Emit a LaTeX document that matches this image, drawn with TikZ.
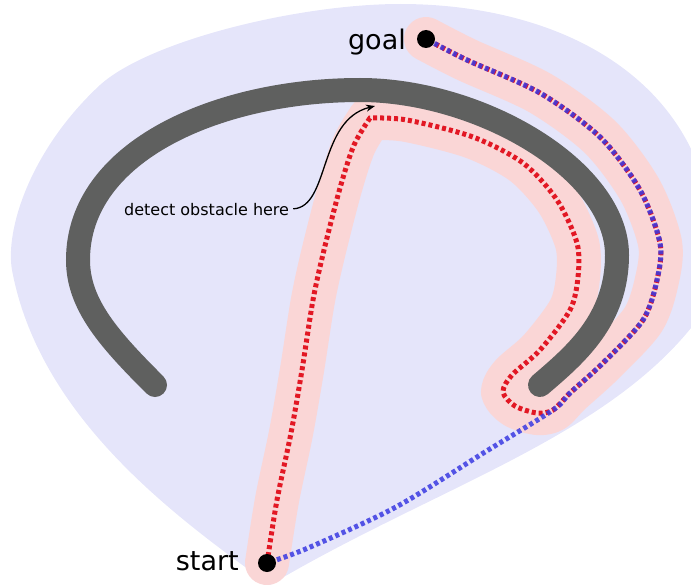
\documentclass[tikz,border=0pt]{standalone}
\usepackage{fontspec}
\setmainfont{DejaVu Sans}
\usetikzlibrary{arrows.meta}
\definecolor{blobfill}{RGB}{229,229,250}
\definecolor{halopink}{RGB}{250,214,214}
\definecolor{obstaclegray}{RGB}{95,96,95}
\definecolor{routered}{RGB}{226,24,36}
\definecolor{routeblue}{RGB}{58,58,226}

\begin{document}
\begin{tikzpicture}[x=1pt,  y=-1pt,
    haloline/.style={line width=44pt,  color=halopink,  line cap=round,  line join=round},
    dotline/.style={line width=5pt,  dash pattern=on 4pt off 3pt},
    dot/.style={circle,  fill=black,  minimum size=18pt,  inner sep=0pt},
    bigtext/.style={inner sep=0pt,  font=\fontsize{27}{32}\selectfont}]
          \useasboundingbox (0,0) rectangle (691,586);
          \clip (0,0) rectangle (691,586);
          \fill[blobfill] (400,4) .. controls (540,4) and (660,60) .. (700,170) .. controls (720,230) and (710,290) .. (691,328) .. controls (600,440) and (430,490) .. (270,585) .. controls (180,520) and (40,420) .. (12,270) .. controls (5,230) and (30,150) .. (100,85) .. controls (150,40) and (300,4) .. (400,4) -- cycle;
          \coordinate (startpt) at (267,563);
          \coordinate (goalpt) at (426,39);
          \coordinate (corner) at (370,118);
          \coordinate (tip) at (375,106);
          \draw[haloline] plot[smooth] coordinates {(startpt) (277,500) (291,433) (302,370) (313,300) (324,250) (340,188) (354,145) (corner)} -- plot[smooth] coordinates {(corner) (407,120) (473,137) (523,163) (557,200) (577,243) (578,277) (570,310) (540,350) (512,375) (503,392) (515,406) (537,413) (553,410) (570,393) (603,363) (643,320) (657,280) (660,243) (640,190) (600,137) (540,93) (467,60) (goalpt)};
          \draw[obstaclegray,  line width=24pt,  line cap=round] (155,385) .. controls (110,340) and (78,305) .. (78,260) .. controls (78,150) and (220,90) .. (360,90) .. controls (480,90) and (617,170) .. (617,255) .. controls (617,320) and (575,355) .. (540,385);
          \draw[dotline,  routered] plot[smooth] coordinates {(startpt) (277,500) (291,433) (302,370) (313,300) (324,250) (340,188) (354,145) (corner)} -- plot[smooth] coordinates {(corner) (407,120) (473,137) (523,163) (557,200) (577,243) (578,277) (570,310) (540,350) (512,375) (503,392) (515,406) (537,413) (553,410) (570,393) (603,363) (643,320) (657,280) (660,243) (640,190) (600,137) (540,93) (467,60) (goalpt)};
          \draw[dotline,  routeblue,  dash phase=3.5pt,  opacity=0.85] plot[smooth] coordinates {(startpt) (308,548) (396,507) (485,452) (553,410) (570,393) (603,363) (643,320) (657,280) (660,243) (640,190) (600,137) (540,93) (467,60) (goalpt)};
          \node[dot] (start) at (startpt) {};
          \node[dot] (goal) at (goalpt) {};
          \node[bigtext,  anchor=base east] (startlabel) at (239,570) {start};
          \node[bigtext,  anchor=base east] (goallabel) at (406,50) {goal};
          \node[inner sep=0pt,  font=\fontsize{16}{19}\selectfont,  anchor=base west] (detect) at (124,215) {detect obstacle here};
          \draw[-{Stealth[length=9pt,  width=7pt]},  line width=1.3pt,  shorten <=4pt] (detect.east) .. controls (330,207) and (318,120) .. (tip);
      \end{tikzpicture}
\end{document}
